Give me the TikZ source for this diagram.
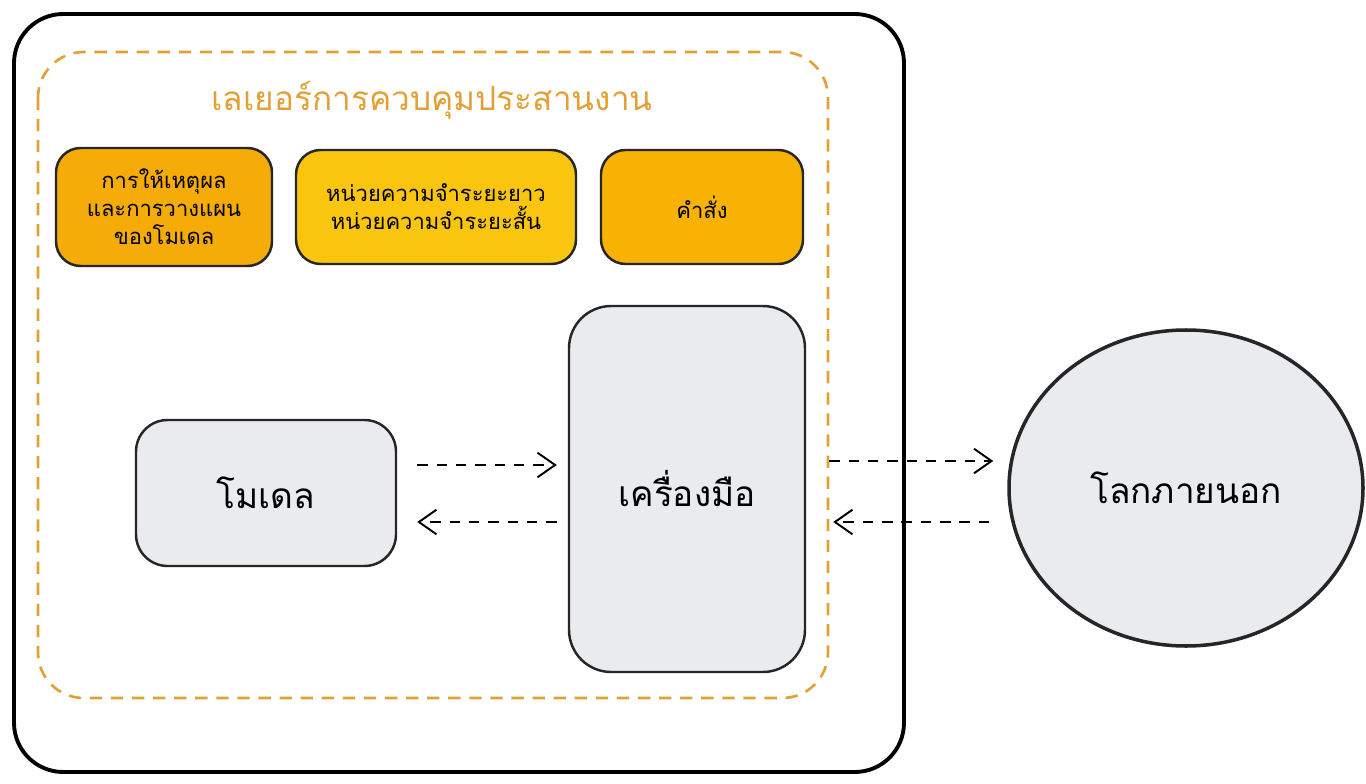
\documentclass[tikz,border=0pt]{standalone}
\usepackage{fontspec}
\setmainfont[Script=Thai]{Loma}
\usetikzlibrary{arrows.meta,shapes.geometric}
\definecolor{layerorange}{HTML}{E3A035}
\definecolor{boxorange}{HTML}{F6AC08}
\definecolor{boxyellow}{HTML}{F9C50E}
\definecolor{boxamber}{HTML}{F8B204}
\definecolor{boxgrey}{HTML}{E9EBEE}
\tikzset{
	box/.style={draw=black!85, line width=1.4pt, rounded corners=14pt, align=center, font=\fontsize{12.5}{16}\selectfont},
	bigbox/.style={draw=black!85, line width=1.4pt, rounded corners=18pt, fill=boxgrey, font=\fontsize{20}{24}\selectfont},
	flow/.style={dashed, line width=1.1pt, dash pattern=on 6pt off 5pt, -{Straight Barb[length=10pt,width=14pt,line width=1.1pt]}}
}
\begin{document}
\begin{tikzpicture}[x=0.02cm, y=-0.02cm]
\useasboundingbox (0,0) rectangle (1366,784);

\draw[line width=2.2pt, rounded corners=28pt] (14,14) rectangle (904,772);
\draw[layerorange, line width=1.5pt, dash pattern=on 7pt off 5pt, rounded corners=26pt] (38,52) rectangle (828,698);
\node[text=layerorange, font=\fontsize{19}{22}\selectfont] (title) at (432,100) {เลเยอร์การควบคุมประสานงาน};

\node[box, fill=boxorange, minimum width=216*0.02cm, minimum height=118*0.02cm] (reason) at (164,207) {การให้เหตุผล\\และการวางแผน\\ของโมเดล};
\node[box, fill=boxyellow, minimum width=280*0.02cm, minimum height=114*0.02cm] (memory) at (436,207) {หน่วยความจำระยะยาว\\หน่วยความจำระยะสั้น};
\node[box, fill=boxamber, minimum width=202*0.02cm, minimum height=114*0.02cm] (instr) at (702,207) {คำสั่ง};

\node[bigbox, minimum width=260*0.02cm, minimum height=146*0.02cm] (model) at (266,493) {โมเดล};
\node[bigbox, rounded corners=24pt, minimum width=236*0.02cm, minimum height=366*0.02cm] (tool) at (687,489) {เครื่องมือ};
\node[ellipse, draw=black!85, line width=2pt, fill=boxgrey, minimum width=354*0.02cm, minimum height=316*0.02cm, font=\fontsize{20}{24}\selectfont] (world) at (1186,488) {โลกภายนอก};

\draw[flow, shorten <=20*0.02cm, shorten >=11*0.02cm] ([yshift=28*0.02cm]model.east) -- ([yshift=24*0.02cm]tool.west);
\draw[flow, shorten <=11*0.02cm, shorten >=20*0.02cm] ([yshift=-33*0.02cm]tool.west) -- ([yshift=-29*0.02cm]model.east);
\draw[flow, shorten <=23*0.02cm, shorten >=14*0.02cm] ([yshift=28*0.02cm]tool.east) -- ([yshift=27*0.02cm]world.west);
\draw[flow, shorten <=18*0.02cm, shorten >=27*0.02cm] ([yshift=-34*0.02cm]world.west) -- ([yshift=-33*0.02cm]tool.east);
\end{tikzpicture}
\end{document}
